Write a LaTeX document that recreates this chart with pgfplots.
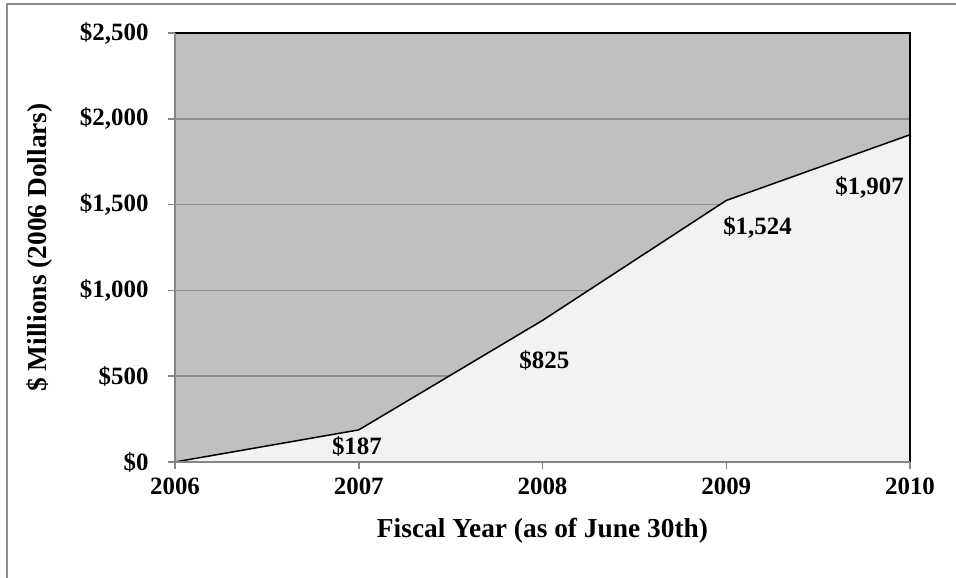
\documentclass[border=0pt]{standalone}
\usepackage{pgfplots}
\pgfplotsset{compat=1.18}
\usepackage{fontspec}
\setmainfont{Liberation Serif}
\definecolor{bgdark}{HTML}{C0C0C0}
\definecolor{bglight}{HTML}{F2F2F2}
\definecolor{gridc}{HTML}{8E8E8E}
\definecolor{axc}{HTML}{868686}
\definecolor{framec}{HTML}{8C8C8C}
\begin{document}
\begin{tikzpicture}[x=1bp,y=1bp]
\useasboundingbox (0,0) rectangle (956,578);
\draw[color=framec, line width=2bp] (7,-5) -- (7,574) -- (962,574);
\begin{axis}[at={(175bp,116bp)}, anchor=south west, scale only axis,
  width=735bp, height=429bp,
  xmin=2006, xmax=2010, ymin=0, ymax=2500,
  xtick={2006,2007,2008,2009,2010},
  xticklabels={2006,2007,2008,2009,2010},
  ytick={0,500,1000,1500,2000,2500},
  yticklabels={{\$0},{\$500},{\$1,000},{\$1,500},{\$2,000},{\$2,500}},
  xtick pos=bottom, ytick pos=left,
  tick align=outside, major tick length=7bp,
  tick style={color=axc, line width=1.5bp},
  axis line style={draw=none},
  axis background/.style={fill=bgdark},
  ymajorgrids, major grid style={color=gridc, line width=1.5bp},
  tick label style={font=\bfseries\fontsize{25}{29}\selectfont},
  label style={font=\bfseries\fontsize{27.5}{32}\selectfont},
  xlabel={Fiscal Year (as of June 30th)},
  ylabel={\$ Millions (2006 Dollars)},
  xlabel style={at={(axis description cs:0.5,-0.1608)}, anchor=center},
  ylabel style={at={(axis description cs:-0.1837,0.5)}, anchor=center},
  xticklabel style={yshift=-5bp},
  yticklabel style={xshift=-16bp},
  clip=false,
]
\addplot[fill=bglight, draw=none] coordinates {(2006,0) (2007,187) (2008,825) (2009,1524) (2010,1907)} \closedcycle;
\addplot[black, line width=1.5bp] coordinates {(2006,0) (2007,187) (2008,825) (2009,1524) (2010,1907)};
\draw[black, line width=2bp] (axis cs:2006,2500) -- (axis cs:2010,2500) -- (axis cs:2010,0);
\draw[axc, line width=2bp] (axis cs:2006,2500) -- (axis cs:2006,0) -- (axis cs:2010,0);
\begin{scope}[every node/.style={font=\bfseries\fontsize{25}{29}\selectfont}]
\node at (axis cs:2006.99,93) {\$187};
\node at (axis cs:2008.01,594) {\$825};
\node at (axis cs:2009.17,1369) {\$1,524};
\node at (axis cs:2009.78,1603) {\$1,907};
\end{scope}
\end{axis}
\end{tikzpicture}
\end{document}
